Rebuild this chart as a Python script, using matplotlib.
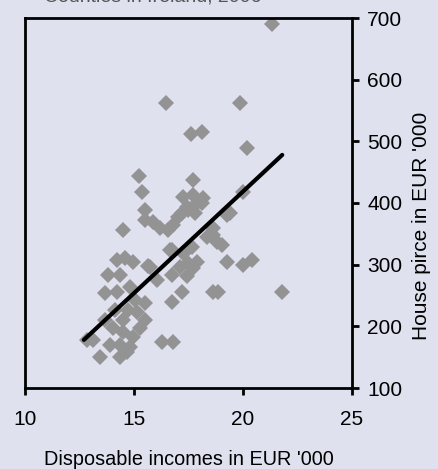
import numpy as np
import matplotlib.pyplot as plt

# income (EUR '000) vs house price (EUR '000), one point per area
income = [21.33, 16.47, 19.86, 17.61, 18.12, 20.18, 15.23, 17.71, 15.37, 17.25,
          17.71, 17.89, 17.20, 17.48, 15.50, 15.50, 15.87, 16.19, 16.56, 16.79,
          17.02, 14.50, 18.17, 17.43, 17.80, 20.00, 19.40, 19.27, 18.62, 18.35,
          18.81, 19.04, 16.74, 17.25, 17.66, 17.43, 14.22, 14.59, 14.95, 15.64,
          17.48, 17.89, 17.71, 19.27, 20.00, 20.41, 13.81, 14.36, 13.67, 14.22,
          14.82, 16.06, 16.74, 17.11, 17.43, 17.20, 16.74, 15.50, 15.14, 15.50,
          13.67, 14.50, 14.04, 14.50, 14.95, 12.84, 13.12, 13.44, 14.36, 14.82,
          14.36, 16.28, 16.79, 18.62, 18.85, 21.79, 15.73, 16.65, 18.62, 18.12,
          15.05, 14.72, 15.28, 13.90, 14.68, 14.13]
price = [690, 562, 562, 512, 515, 489, 444, 437, 418, 410,
         413, 400, 384, 389, 389, 372, 369, 359, 356, 364,
         377, 356, 408, 393, 384, 418, 384, 381, 359, 345,
         337, 332, 324, 319, 329, 324, 308, 311, 304, 298,
         303, 304, 295, 304, 299, 308, 283, 283, 254, 256,
         264, 275, 283, 296, 282, 256, 239, 238, 223, 210,
         210, 210, 197, 191, 183, 178, 178, 150, 150, 166,
         170, 175, 175, 256, 256, 256, 296, 324, 348, 400,
         243, 226, 197, 170, 158, 226]

# trend line end points
trend_x = [12.7, 21.8]
trend_y = [178, 478]

x_ticks = [10, 15, 20, 25]
y_ticks = [100, 200, 300, 400, 500, 600, 700]

bg = '#dfe1ee'
plt.rcParams['font.family'] = ['Liberation Sans', 'DejaVu Sans']

fig = plt.figure(figsize=(4.39, 4.69), dpi=100, facecolor=bg)
ax = fig.add_axes([25 / 439, 1 - 388 / 469, 327 / 439, 370 / 469])
ax.set_facecolor(bg)

ax.plot(income, price, linestyle='none', marker='D', markersize=8,
        color='#939393', markeredgewidth=0, zorder=2)
ax.plot(trend_x, trend_y, color='black', linewidth=3, solid_capstyle='round', zorder=3)

ax.set_xlim(10, 25)
ax.set_ylim(100, 700)
ax.set_xticks(x_ticks)
ax.set_yticks(y_ticks)

for s in ax.spines.values():
    s.set_linewidth(2)
    s.set_color('black')

ax.yaxis.tick_right()
ax.yaxis.set_label_position('right')
ax.tick_params(axis='x', direction='out', length=5, width=2, pad=11, labelsize=15)
ax.tick_params(axis='y', direction='out', length=5, width=2, pad=6, labelsize=15)

ax.set_xlabel("Disposable incomes in EUR '000", fontsize=14.3, labelpad=15)
ax.set_ylabel("House pirce in EUR '000", fontsize=15, labelpad=7)
ax.yaxis.label.set_y(0.438)

# title cut off at the top edge of the image, only its lower edge shows
fig.text(0.1, 0.9965, "Counties in Ireland, 2006", fontsize=14,
         color='#555555', va='baseline')

fig.savefig('out.png', dpi=100, facecolor=bg)
